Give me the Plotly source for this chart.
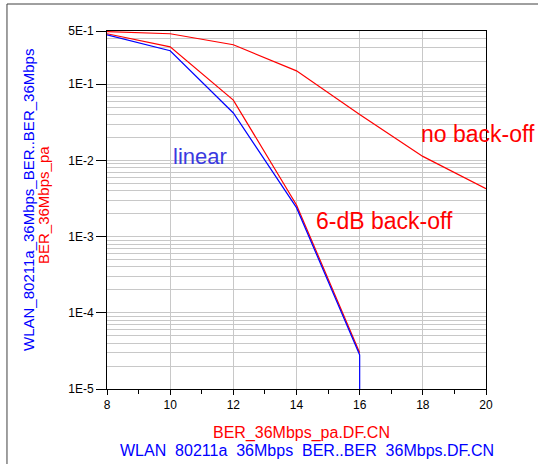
import plotly.graph_objects as go

# Data (Eb/No in dB vs BER)
snr = [8, 10, 12, 14, 16]
ber_linear = [0.445, 0.275, 0.042, 0.0024, 2.8e-5]
snr_linear_tail = [16]
ber_linear_tail = [1e-9]
ber_6db = [0.46, 0.31, 0.062, 0.0026, 3.0e-5]
snr_nobo = [8, 10, 12, 14, 16, 18, 20]
ber_nobo = [0.49, 0.46, 0.33, 0.15, 0.040, 0.0113, 0.00425]

ytick_vals = [1e-5, 1e-4, 1e-3, 1e-2, 1e-1, 0.5]
ytick_text = ["1E-5", "1E-4", "1E-3", "1E-2", "1E-1", "5E-1"]
xtick_vals = [8, 10, 12, 14, 16, 18, 20]

RED = "#ff0000"
BLUE = "#0000ff"
GRID = "#c8c8c8"
FONT = "Liberation Sans, Arial, sans-serif"

fig = go.Figure()
fig.add_trace(go.Scatter(x=snr_nobo, y=ber_nobo, mode="lines",
                         line=dict(color=RED, width=1.2), showlegend=False))
fig.add_trace(go.Scatter(x=snr, y=ber_6db, mode="lines",
                         line=dict(color=RED, width=1.2), showlegend=False))
fig.add_trace(go.Scatter(x=snr + snr_linear_tail, y=ber_linear + ber_linear_tail,
                         mode="lines", line=dict(color=BLUE, width=1.2),
                         showlegend=False))

fig.add_annotation(x=10.93, y=-1.95, text="linear", showarrow=False,
                   font=dict(color="#3a3ae0", size=22, family=FONT))
fig.add_annotation(x=19.75, y=-1.654, text="no back-off", showarrow=False,
                   font=dict(color=RED, size=23, family=FONT))
fig.add_annotation(x=16.80, y=-2.80, text="6-dB back-off", showarrow=False,
                   font=dict(color=RED, size=23, family=FONT))

# axis titles (two coloured lines each)
title_common = dict(xref="paper", yref="paper", showarrow=False,
                    xanchor="center", yanchor="middle")
fig.add_annotation(x=-0.2058, y=0.528, textangle=-90,
                   text="WLAN_80211a_36Mbps_BER..BER_36Mbps",
                   font=dict(color=BLUE, size=15, family=FONT), **title_common)
fig.add_annotation(x=-0.1662, y=0.514, textangle=-90,
                   text="BER_36Mbps_pa",
                   font=dict(color=RED, size=15, family=FONT), **title_common)
fig.add_annotation(x=0.513, y=-0.1243,
                   text="BER_36Mbps_pa.DF.CN",
                   font=dict(color=RED, size=16, family=FONT), **title_common)
fig.add_annotation(x=0.5277, y=-0.1704,
                   text="WLAN  80211a  36Mbps  BER..BER  36Mbps.DF.CN",
                   font=dict(color=BLUE, size=16, family=FONT), **title_common)

# outer frame
fig.add_shape(type="rect", xref="paper", yref="paper",
              x0=-0.2639, x1=1.2, y0=-0.3, y1=1.0754,
              line=dict(color="#404040", width=1), layer="below")

fig.update_layout(
    width=538, height=464,
    margin=dict(l=107, r=52, t=31, b=75, autoexpand=False),
    paper_bgcolor="white", plot_bgcolor="white",
    font=dict(family=FONT, size=12, color="black"),
    xaxis=dict(
        range=[8, 20], tickvals=xtick_vals, ticks="outside", ticklen=5,
        tickcolor="black", showline=True, linecolor="black", linewidth=1,
        mirror=True, showgrid=True, gridcolor=GRID, gridwidth=1,
        zeroline=False, tickfont=dict(size=12),
        minor=dict(dtick=1, ticks="outside", ticklen=4, tickcolor="black",
                   showgrid=False),
    ),
    yaxis=dict(
        type="log", range=[-5, -0.30103], tickvals=ytick_vals, ticktext=ytick_text,
        ticks="outside", ticklen=10, tickcolor="black", showline=True,
        linecolor="black", linewidth=1, mirror=True, showgrid=True,
        gridcolor=GRID, gridwidth=1, zeroline=False, tickfont=dict(size=12),
        minor=dict(dtick="D1", showgrid=True, gridcolor=GRID, gridwidth=1, ticks=""),
    ),
)

fig.write_html("out.html", config={"displayModeBar": False},
               post_script="document.body.style.margin='0px';")
